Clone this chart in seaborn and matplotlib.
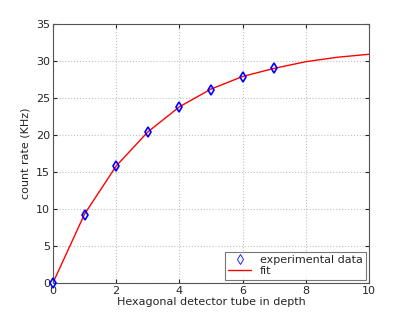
import numpy as np
import pandas as pd
import matplotlib
matplotlib.use("Agg")
import matplotlib.pyplot as plt
import seaborn as sns

# measured points
depth = [0, 1, 2, 3, 4, 5, 6, 7]
rate = [0.0, 9.2, 15.8, 20.4, 23.8, 26.1, 27.8, 29.0]

# fit curve
fit_depth = [0, 1, 2, 3, 4, 5, 6, 7, 8, 9, 10]
fit_rate = [0.0, 9.3, 15.8, 20.4, 23.8, 26.2, 27.9, 29.0, 29.9, 30.5, 30.9]

sns.set_style("ticks")
plt.rcParams['font.family'] = ['DejaVu Sans']
plt.rcParams['font.size'] = 8

data = pd.DataFrame({"depth": depth, "rate": rate})
fit = pd.DataFrame({"depth": fit_depth, "rate": fit_rate})

fig = plt.figure(figsize=(4.07, 3.19), dpi=100)
ax = fig.add_axes([0.130, 0.113, 0.777, 0.812])

ax.plot(data["depth"], data["rate"], linestyle="none", marker="d",
        markerfacecolor="none", markeredgecolor="blue", markeredgewidth=1.2,
        markersize=5, label="experimental data", zorder=3, clip_on=False)
sns.lineplot(data=fit, x="depth", y="rate", color="red", linewidth=1.0,
             label="fit", ax=ax, zorder=2)

ax.set_xlim(0, 10)
ax.set_ylim(0, 35)
ax.set_xticks(range(0, 11, 2))
ax.set_yticks(range(0, 36, 5))
ax.grid(True, linestyle=":", color="#c0c0c0", linewidth=0.8)
ax.tick_params(direction="in", length=3, labelsize=8, top=True, right=True,
               labeltop=False, labelright=False, pad=2)
for s in ax.spines.values():
    s.set_visible(True)
    s.set_color("#555555")
    s.set_linewidth(0.8)

ax.set_xlabel("Hexagonal detector tube in depth", fontsize=8, labelpad=1)
ax.set_ylabel("count rate (KHz)", fontsize=8, labelpad=4)

leg = ax.legend(loc="lower right", fontsize=8, frameon=True, fancybox=False,
                borderaxespad=0.3, handlelength=2.0, borderpad=0.3,
                labelspacing=0.1)
leg.get_frame().set_edgecolor("#555555")
leg.get_frame().set_linewidth(0.8)
leg.legend_handles[0].set_markeredgewidth(0.6)

fig.savefig("out.png", dpi=100)
